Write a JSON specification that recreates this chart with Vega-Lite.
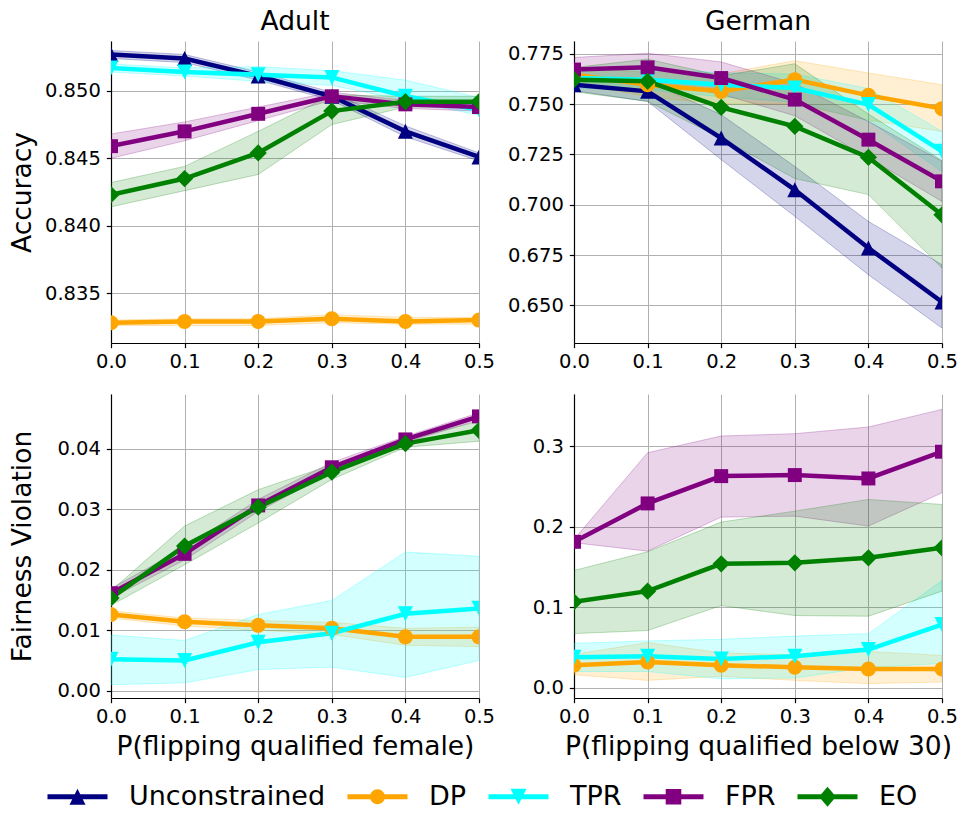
{
 "$schema": "https://vega.github.io/schema/vega-lite/v6.json",
 "padding": {"left": 9, "top": 8, "right": 5, "bottom": 5},
 "config": {
  "font": "DejaVu Sans",
  "view": {"stroke": null},
  "axis": {"labelFont": "DejaVu Sans", "labelFontSize": 19.5, "labelColor": "black", "titleFont": "DejaVu Sans", "titleFontSize": 26.5, "titleFontWeight": "normal", "titleColor": "black", "domainColor": "black", "domainWidth": 1.2, "tickColor": "black", "tickSize": 4.7, "tickWidth": 1.2, "gridColor": "#b0b0b0", "gridWidth": 1, "labelPadding": 5, "labelFlush": false, "labelOverlap": false},
  "title": {"font": "DejaVu Sans", "fontSize": 26.5, "fontWeight": "normal", "color": "black", "offset": 6}
 },
 "data": {"values": [
  {"d":"Adult","m":"acc","k":"Unconstrained","p":0.0,"v":0.8527,"lo":0.8524,"hi":0.8530},
  {"d":"Adult","m":"acc","k":"Unconstrained","p":0.1,"v":0.8524,"lo":0.8521,"hi":0.8527},
  {"d":"Adult","m":"acc","k":"Unconstrained","p":0.2,"v":0.8511,"lo":0.8508,"hi":0.8514},
  {"d":"Adult","m":"acc","k":"Unconstrained","p":0.3,"v":0.8496,"lo":0.8493,"hi":0.8499},
  {"d":"Adult","m":"acc","k":"Unconstrained","p":0.4,"v":0.8470,"lo":0.8466,"hi":0.8474},
  {"d":"Adult","m":"acc","k":"Unconstrained","p":0.5,"v":0.8451,"lo":0.8448,"hi":0.8454},
  {"d":"Adult","m":"acc","k":"DP","p":0.0,"v":0.8328,"lo":0.8326,"hi":0.8330},
  {"d":"Adult","m":"acc","k":"DP","p":0.1,"v":0.8329,"lo":0.8326,"hi":0.8331},
  {"d":"Adult","m":"acc","k":"DP","p":0.2,"v":0.8329,"lo":0.8326,"hi":0.8331},
  {"d":"Adult","m":"acc","k":"DP","p":0.3,"v":0.8331,"lo":0.8328,"hi":0.8334},
  {"d":"Adult","m":"acc","k":"DP","p":0.4,"v":0.8329,"lo":0.8327,"hi":0.8332},
  {"d":"Adult","m":"acc","k":"DP","p":0.5,"v":0.8330,"lo":0.8327,"hi":0.8332},
  {"d":"Adult","m":"acc","k":"TPR","p":0.0,"v":0.8517,"lo":0.8514,"hi":0.8520},
  {"d":"Adult","m":"acc","k":"TPR","p":0.1,"v":0.8514,"lo":0.8511,"hi":0.8517},
  {"d":"Adult","m":"acc","k":"TPR","p":0.2,"v":0.8512,"lo":0.8507,"hi":0.8518},
  {"d":"Adult","m":"acc","k":"TPR","p":0.3,"v":0.8510,"lo":0.8504,"hi":0.8515},
  {"d":"Adult","m":"acc","k":"TPR","p":0.4,"v":0.8496,"lo":0.8493,"hi":0.8508},
  {"d":"Adult","m":"acc","k":"TPR","p":0.5,"v":0.8486,"lo":0.8482,"hi":0.8495},
  {"d":"Adult","m":"acc","k":"FPR","p":0.0,"v":0.8459,"lo":0.8450,"hi":0.8468},
  {"d":"Adult","m":"acc","k":"FPR","p":0.1,"v":0.8470,"lo":0.8463,"hi":0.8477},
  {"d":"Adult","m":"acc","k":"FPR","p":0.2,"v":0.8483,"lo":0.8478,"hi":0.8488},
  {"d":"Adult","m":"acc","k":"FPR","p":0.3,"v":0.8496,"lo":0.8493,"hi":0.8499},
  {"d":"Adult","m":"acc","k":"FPR","p":0.4,"v":0.8490,"lo":0.8487,"hi":0.8493},
  {"d":"Adult","m":"acc","k":"FPR","p":0.5,"v":0.8488,"lo":0.8485,"hi":0.8492},
  {"d":"Adult","m":"acc","k":"EO","p":0.0,"v":0.8423,"lo":0.8414,"hi":0.8432},
  {"d":"Adult","m":"acc","k":"EO","p":0.1,"v":0.8435,"lo":0.8426,"hi":0.8444},
  {"d":"Adult","m":"acc","k":"EO","p":0.2,"v":0.8454,"lo":0.8438,"hi":0.8470},
  {"d":"Adult","m":"acc","k":"EO","p":0.3,"v":0.8485,"lo":0.8475,"hi":0.8497},
  {"d":"Adult","m":"acc","k":"EO","p":0.4,"v":0.8492,"lo":0.8488,"hi":0.8496},
  {"d":"Adult","m":"acc","k":"EO","p":0.5,"v":0.8492,"lo":0.8488,"hi":0.8496},
  {"d":"German","m":"acc","k":"Unconstrained","p":0.0,"v":0.7596,"lo":0.7566,"hi":0.7626},
  {"d":"German","m":"acc","k":"Unconstrained","p":0.1,"v":0.7563,"lo":0.7513,"hi":0.7613},
  {"d":"German","m":"acc","k":"Unconstrained","p":0.2,"v":0.7331,"lo":0.7224,"hi":0.7447},
  {"d":"German","m":"acc","k":"Unconstrained","p":0.3,"v":0.7074,"lo":0.6942,"hi":0.7190},
  {"d":"German","m":"acc","k":"Unconstrained","p":0.4,"v":0.6785,"lo":0.6652,"hi":0.6917},
  {"d":"German","m":"acc","k":"Unconstrained","p":0.5,"v":0.6517,"lo":0.6387,"hi":0.6702},
  {"d":"German","m":"acc","k":"DP","p":0.0,"v":0.7646,"lo":0.7606,"hi":0.7686},
  {"d":"German","m":"acc","k":"DP","p":0.1,"v":0.7596,"lo":0.7536,"hi":0.7656},
  {"d":"German","m":"acc","k":"DP","p":0.2,"v":0.7563,"lo":0.7500,"hi":0.7650},
  {"d":"German","m":"acc","k":"DP","p":0.3,"v":0.7621,"lo":0.7500,"hi":0.7715},
  {"d":"German","m":"acc","k":"DP","p":0.4,"v":0.7543,"lo":0.7420,"hi":0.7654},
  {"d":"German","m":"acc","k":"DP","p":0.5,"v":0.7477,"lo":0.7364,"hi":0.7596},
  {"d":"German","m":"acc","k":"TPR","p":0.0,"v":0.7629,"lo":0.7579,"hi":0.7679},
  {"d":"German","m":"acc","k":"TPR","p":0.1,"v":0.7621,"lo":0.7571,"hi":0.7671},
  {"d":"German","m":"acc","k":"TPR","p":0.2,"v":0.7596,"lo":0.7536,"hi":0.7656},
  {"d":"German","m":"acc","k":"TPR","p":0.3,"v":0.7579,"lo":0.7509,"hi":0.7649},
  {"d":"German","m":"acc","k":"TPR","p":0.4,"v":0.7497,"lo":0.7417,"hi":0.7577},
  {"d":"German","m":"acc","k":"TPR","p":0.5,"v":0.7265,"lo":0.7165,"hi":0.7365},
  {"d":"German","m":"acc","k":"FPR","p":0.0,"v":0.7671,"lo":0.7611,"hi":0.7731},
  {"d":"German","m":"acc","k":"FPR","p":0.1,"v":0.7682,"lo":0.7612,"hi":0.7752},
  {"d":"German","m":"acc","k":"FPR","p":0.2,"v":0.7629,"lo":0.7549,"hi":0.7709},
  {"d":"German","m":"acc","k":"FPR","p":0.3,"v":0.7522,"lo":0.7442,"hi":0.7602},
  {"d":"German","m":"acc","k":"FPR","p":0.4,"v":0.7323,"lo":0.7233,"hi":0.7413},
  {"d":"German","m":"acc","k":"FPR","p":0.5,"v":0.7116,"lo":0.7016,"hi":0.7216},
  {"d":"German","m":"acc","k":"EO","p":0.0,"v":0.7621,"lo":0.7561,"hi":0.7681},
  {"d":"German","m":"acc","k":"EO","p":0.1,"v":0.7613,"lo":0.7513,"hi":0.7723},
  {"d":"German","m":"acc","k":"EO","p":0.2,"v":0.7483,"lo":0.7330,"hi":0.7640},
  {"d":"German","m":"acc","k":"EO","p":0.3,"v":0.7389,"lo":0.7130,"hi":0.7700},
  {"d":"German","m":"acc","k":"EO","p":0.4,"v":0.7235,"lo":0.7050,"hi":0.7450},
  {"d":"German","m":"acc","k":"EO","p":0.5,"v":0.6950,"lo":0.6685,"hi":0.7220},
  {"d":"Adult","m":"fv","k":"DP","p":0.0,"v":0.0126,"lo":0.0120,"hi":0.0132},
  {"d":"Adult","m":"fv","k":"DP","p":0.1,"v":0.0114,"lo":0.0107,"hi":0.0120},
  {"d":"Adult","m":"fv","k":"DP","p":0.2,"v":0.0108,"lo":0.0100,"hi":0.0116},
  {"d":"Adult","m":"fv","k":"DP","p":0.3,"v":0.0103,"lo":0.0093,"hi":0.0113},
  {"d":"Adult","m":"fv","k":"DP","p":0.4,"v":0.0089,"lo":0.0075,"hi":0.0103},
  {"d":"Adult","m":"fv","k":"DP","p":0.5,"v":0.0089,"lo":0.0073,"hi":0.0105},
  {"d":"Adult","m":"fv","k":"TPR","p":0.0,"v":0.0052,"lo":0.0010,"hi":0.0092},
  {"d":"Adult","m":"fv","k":"TPR","p":0.1,"v":0.0050,"lo":0.0013,"hi":0.0083},
  {"d":"Adult","m":"fv","k":"TPR","p":0.2,"v":0.0080,"lo":0.0035,"hi":0.0126},
  {"d":"Adult","m":"fv","k":"TPR","p":0.3,"v":0.0095,"lo":0.0039,"hi":0.0149},
  {"d":"Adult","m":"fv","k":"TPR","p":0.4,"v":0.0127,"lo":0.0022,"hi":0.0229},
  {"d":"Adult","m":"fv","k":"TPR","p":0.5,"v":0.0136,"lo":0.0050,"hi":0.0222},
  {"d":"Adult","m":"fv","k":"FPR","p":0.0,"v":0.0161,"lo":0.0153,"hi":0.0169},
  {"d":"Adult","m":"fv","k":"FPR","p":0.1,"v":0.0226,"lo":0.0216,"hi":0.0236},
  {"d":"Adult","m":"fv","k":"FPR","p":0.2,"v":0.0306,"lo":0.0296,"hi":0.0316},
  {"d":"Adult","m":"fv","k":"FPR","p":0.3,"v":0.0369,"lo":0.0361,"hi":0.0377},
  {"d":"Adult","m":"fv","k":"FPR","p":0.4,"v":0.0415,"lo":0.0410,"hi":0.0420},
  {"d":"Adult","m":"fv","k":"FPR","p":0.5,"v":0.0453,"lo":0.0447,"hi":0.0459},
  {"d":"Adult","m":"fv","k":"EO","p":0.0,"v":0.0153,"lo":0.0141,"hi":0.0165},
  {"d":"Adult","m":"fv","k":"EO","p":0.1,"v":0.0239,"lo":0.0208,"hi":0.0272},
  {"d":"Adult","m":"fv","k":"EO","p":0.2,"v":0.0303,"lo":0.0277,"hi":0.0332},
  {"d":"Adult","m":"fv","k":"EO","p":0.3,"v":0.0361,"lo":0.0349,"hi":0.0373},
  {"d":"Adult","m":"fv","k":"EO","p":0.4,"v":0.0408,"lo":0.0402,"hi":0.0414},
  {"d":"Adult","m":"fv","k":"EO","p":0.5,"v":0.0430,"lo":0.0412,"hi":0.0445},
  {"d":"German","m":"fv","k":"DP","p":0.0,"v":0.0278,"lo":0.016,"hi":0.041},
  {"d":"German","m":"fv","k":"DP","p":0.1,"v":0.0319,"lo":0.009,"hi":0.056},
  {"d":"German","m":"fv","k":"DP","p":0.2,"v":0.0278,"lo":0.014,"hi":0.043},
  {"d":"German","m":"fv","k":"DP","p":0.3,"v":0.0253,"lo":0.009,"hi":0.041},
  {"d":"German","m":"fv","k":"DP","p":0.4,"v":0.0232,"lo":0.005,"hi":0.045},
  {"d":"German","m":"fv","k":"DP","p":0.5,"v":0.0232,"lo":0.007,"hi":0.040},
  {"d":"German","m":"fv","k":"TPR","p":0.0,"v":0.0377,"lo":0.020,"hi":0.055},
  {"d":"German","m":"fv","k":"TPR","p":0.1,"v":0.0390,"lo":0.020,"hi":0.058},
  {"d":"German","m":"fv","k":"TPR","p":0.2,"v":0.0356,"lo":0.011,"hi":0.060},
  {"d":"German","m":"fv","k":"TPR","p":0.3,"v":0.0390,"lo":0.012,"hi":0.064},
  {"d":"German","m":"fv","k":"TPR","p":0.4,"v":0.0472,"lo":0.025,"hi":0.067},
  {"d":"German","m":"fv","k":"TPR","p":0.5,"v":0.0783,"lo":0.030,"hi":0.133},
  {"d":"German","m":"fv","k":"FPR","p":0.0,"v":0.1811,"lo":0.180,"hi":0.184},
  {"d":"German","m":"fv","k":"FPR","p":0.1,"v":0.2288,"lo":0.1695,"hi":0.2918},
  {"d":"German","m":"fv","k":"FPR","p":0.2,"v":0.2627,"lo":0.2118,"hi":0.3125},
  {"d":"German","m":"fv","k":"FPR","p":0.3,"v":0.2640,"lo":0.2130,"hi":0.3154},
  {"d":"German","m":"fv","k":"FPR","p":0.4,"v":0.2598,"lo":0.2006,"hi":0.3237},
  {"d":"German","m":"fv","k":"FPR","p":0.5,"v":0.2930,"lo":0.2420,"hi":0.3456},
  {"d":"German","m":"fv","k":"EO","p":0.0,"v":0.1065,"lo":0.0671,"hi":0.1455},
  {"d":"German","m":"fv","k":"EO","p":0.1,"v":0.1198,"lo":0.0709,"hi":0.1687},
  {"d":"German","m":"fv","k":"EO","p":0.2,"v":0.1538,"lo":0.1019,"hi":0.2056},
  {"d":"German","m":"fv","k":"EO","p":0.3,"v":0.1550,"lo":0.0895,"hi":0.2192},
  {"d":"German","m":"fv","k":"EO","p":0.4,"v":0.1612,"lo":0.0887,"hi":0.2337},
  {"d":"German","m":"fv","k":"EO","p":0.5,"v":0.1736,"lo":0.1198,"hi":0.2275}
 ]},
 "columns": 2,
 "spacing": {"row": 22, "column": 12},
 "concat": [
  {
   "width": 368, "height": 302,
   "title": "Adult",
   "transform": [{"filter": "datum.d==='Adult' && datum.m==='acc'"}],
   "encoding": {"x": {"field": "p", "type": "quantitative", "scale": {"domain": [0, 0.5], "nice": false, "zero": false}, "axis": {"values": [0, 0.1, 0.2, 0.3, 0.4, 0.5], "format": ".1f"}, "title": null}},
   "layer": [
    {"mark": {"type": "area", "fillOpacity": 0.17, "strokeOpacity": 0.25, "strokeWidth": 1, "clip": true},
     "encoding": {"y": {"field": "lo", "type": "quantitative", "title": "Accuracy", "scale": {"domain": [0.8313, 0.8537], "nice": false, "zero": false}, "axis": {"values": [0.835, 0.84, 0.845, 0.85], "format": ".3f", "titleX": -89, "titleBaseline": "middle", "labelPadding": 6}}, "y2": {"field": "hi"},
      "fill": {"field": "k", "type": "nominal", "scale": {"range": ["#FFA500", "#008000", "#800080", "#00FFFF", "#000080"]}, "legend": null},
      "stroke": {"field": "k", "type": "nominal", "scale": {"range": ["#FFA500", "#008000", "#800080", "#00FFFF", "#000080"]}, "legend": null}}},
    {"mark": {"type": "line", "strokeWidth": 4.5, "clip": true},
     "encoding": {"y": {"field": "v", "type": "quantitative", "title": "Accuracy"}, "stroke": {"field": "k", "type": "nominal", "legend": null}}},
    {"mark": {"type": "point", "filled": true, "size": 225, "opacity": 1, "clip": true},
     "encoding": {"y": {"field": "v", "type": "quantitative", "title": "Accuracy"},
      "shape": {"field": "k", "type": "nominal", "scale": {"range": ["circle", "M0,-1.15L1.15,0L0,1.15L-1.15,0Z", "M-0.93,-0.93H0.93V0.93H-0.93Z", "M0,1L-1,-1L1,-1Z", "M0,-1L1,1L-1,1Z"]}, "legend": null},
      "color": {"field": "k", "type": "nominal", "scale": {"domain": ["Unconstrained", "DP", "TPR", "FPR", "EO"], "range": ["#000080", "#FFA500", "#00FFFF", "#800080", "#008000"]}, "legend": {"orient": "none", "legendX": -47, "legendY": 742, "direction": "horizontal", "title": null, "labelFontSize": 27, "labelFont": "DejaVu Sans", "labelColor": "black", "symbolSize": 400, "symbolStrokeWidth": 0, "symbolOpacity": 1, "labelOffset": 38, "columnPadding": 21, "labelLimit": 400,
       "encode": {"symbols": {"update": {"shape": {"signal": "datum.value==='Unconstrained'?'M-3,-0.25H3V0.25H-3Z M0,-0.8L0.8,0.8L-0.8,0.8Z':datum.value==='DP'?'M-3,-0.25H3V0.25H-3Z M-0.74,0A0.74,0.74 0 1,1 0.74,0A0.74,0.74 0 1,1 -0.74,0Z':datum.value==='TPR'?'M-3,-0.25H3V0.25H-3Z M0,0.8L-0.8,-0.8L0.8,-0.8Z':datum.value==='FPR'?'M-3,-0.25H3V0.25H-3Z M-0.78,-0.78H0.78V0.78H-0.78Z':'M-3,-0.25H3V0.25H-3Z M0,-1L0.85,0L0,1L-0.85,0Z'"}}}}}}}}
   ]
  },
  {
   "width": 368, "height": 302,
   "title": "German",
   "transform": [{"filter": "datum.d==='German' && datum.m==='acc'"}],
   "encoding": {"x": {"field": "p", "type": "quantitative", "scale": {"domain": [0, 0.5], "nice": false, "zero": false}, "axis": {"values": [0, 0.1, 0.2, 0.3, 0.4, 0.5], "format": ".1f"}, "title": null}},
   "layer": [
    {"mark": {"type": "area", "fillOpacity": 0.17, "strokeOpacity": 0.25, "strokeWidth": 1, "clip": true},
     "encoding": {"y": {"field": "lo", "type": "quantitative", "title": null, "scale": {"domain": [0.6313, 0.7813], "nice": false, "zero": false}, "axis": {"values": [0.65, 0.675, 0.7, 0.725, 0.75, 0.775], "format": ".3f", "labelPadding": 6}}, "y2": {"field": "hi"},
      "fill": {"field": "k", "type": "nominal", "legend": null},
      "stroke": {"field": "k", "type": "nominal", "legend": null}}},
    {"mark": {"type": "line", "strokeWidth": 4.5, "clip": true},
     "encoding": {"y": {"field": "v", "type": "quantitative", "title": null}, "stroke": {"field": "k", "type": "nominal", "legend": null}}},
    {"mark": {"type": "point", "filled": true, "size": 225, "opacity": 1, "clip": true},
     "encoding": {"y": {"field": "v", "type": "quantitative", "title": null},
      "shape": {"field": "k", "type": "nominal", "legend": null},
      "color": {"field": "k", "type": "nominal"}}}
   ]
  },
  {
   "width": 368, "height": 304,
   "transform": [{"filter": "datum.d==='Adult' && datum.m==='fv'"}],
   "encoding": {"x": {"field": "p", "type": "quantitative", "scale": {"domain": [0, 0.5], "nice": false, "zero": false}, "axis": {"values": [0, 0.1, 0.2, 0.3, 0.4, 0.5], "format": ".1f", "titlePadding": 7}, "title": "P(flipping qualified female)"}},
   "layer": [
    {"mark": {"type": "area", "fillOpacity": 0.17, "strokeOpacity": 0.25, "strokeWidth": 1, "clip": true},
     "encoding": {"y": {"field": "lo", "type": "quantitative", "title": "Fairness Violation", "scale": {"domain": [-0.0012, 0.049], "nice": false, "zero": false}, "axis": {"values": [0, 0.01, 0.02, 0.03, 0.04], "format": ".2f", "titleX": -89, "titleBaseline": "middle", "labelPadding": 6}}, "y2": {"field": "hi"},
      "fill": {"field": "k", "type": "nominal", "legend": null},
      "stroke": {"field": "k", "type": "nominal", "legend": null}}},
    {"mark": {"type": "line", "strokeWidth": 4.5, "clip": true},
     "encoding": {"y": {"field": "v", "type": "quantitative", "title": "Fairness Violation"}, "stroke": {"field": "k", "type": "nominal", "legend": null}}},
    {"mark": {"type": "point", "filled": true, "size": 225, "opacity": 1, "clip": true},
     "encoding": {"y": {"field": "v", "type": "quantitative", "title": "Fairness Violation"},
      "shape": {"field": "k", "type": "nominal", "legend": null},
      "color": {"field": "k", "type": "nominal"}}}
   ]
  },
  {
   "width": 368, "height": 304,
   "transform": [{"filter": "datum.d==='German' && datum.m==='fv'"}],
   "encoding": {"x": {"field": "p", "type": "quantitative", "scale": {"domain": [0, 0.5], "nice": false, "zero": false}, "axis": {"values": [0, 0.1, 0.2, 0.3, 0.4, 0.5], "format": ".1f", "titlePadding": 7}, "title": "P(flipping qualified below 30)"}},
   "layer": [
    {"mark": {"type": "area", "fillOpacity": 0.17, "strokeOpacity": 0.25, "strokeWidth": 1, "clip": true},
     "encoding": {"y": {"field": "lo", "type": "quantitative", "title": null, "scale": {"domain": [-0.0129, 0.3647], "nice": false, "zero": false}, "axis": {"values": [0, 0.1, 0.2, 0.3], "format": ".1f", "labelPadding": 6}}, "y2": {"field": "hi"},
      "fill": {"field": "k", "type": "nominal", "legend": null},
      "stroke": {"field": "k", "type": "nominal", "legend": null}}},
    {"mark": {"type": "line", "strokeWidth": 4.5, "clip": true},
     "encoding": {"y": {"field": "v", "type": "quantitative", "title": null}, "stroke": {"field": "k", "type": "nominal", "legend": null}}},
    {"mark": {"type": "point", "filled": true, "size": 225, "opacity": 1, "clip": true},
     "encoding": {"y": {"field": "v", "type": "quantitative", "title": null},
      "shape": {"field": "k", "type": "nominal", "legend": null},
      "color": {"field": "k", "type": "nominal"}}}
   ]
  }
 ]
}
